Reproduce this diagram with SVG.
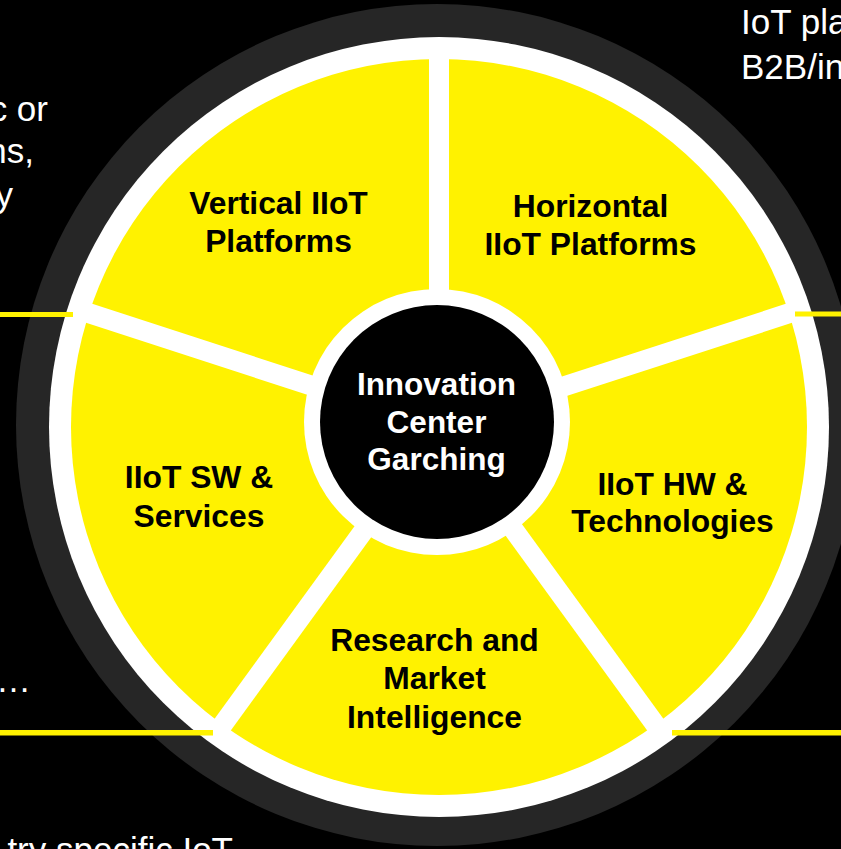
<svg xmlns="http://www.w3.org/2000/svg" width="841" height="849" viewBox="0 0 841 849">
  <style>
    .bg { font-family: "Liberation Sans", Arial, sans-serif; font-size: 35px; fill: #FFFFFF; }
    .lbl { font-family: "Liberation Sans", Arial, sans-serif; font-size: 31.8px; font-weight: bold; fill: #000000; text-anchor: middle; }
    .ctr { font-family: "Liberation Sans", Arial, sans-serif; font-size: 31.5px; font-weight: bold; fill: #FFFFFF; text-anchor: middle; }
    .spoke { stroke: #FFFFFF; stroke-width: 20; stroke-linecap: butt; fill: none; }
    .bar { fill: #FFF200; }
  </style>
  <rect x="0" y="0" width="841" height="849" fill="#000000"/>

  <g id="background-text">
    <text class="bg" x="48" y="121" text-anchor="end">c or</text>
    <text class="bg" x="34" y="163" text-anchor="end">ns,</text>
    <text class="bg" x="13" y="207" text-anchor="end">y</text>
    <text class="bg" x="-4" y="692">…</text>
    <text class="bg" x="233" y="862" text-anchor="end">try specific IoT</text>
    <text class="bg" x="741" y="34">IoT pla</text>
    <text class="bg" x="741" y="79">B2B/in</text>
  </g>

  <g id="wheel">
    <circle cx="437" cy="425" r="421" fill="#262626"/>
    <circle cx="439" cy="427" r="390" fill="#FFFFFF"/>
    <circle cx="439" cy="427" r="368" fill="#FFF200"/>
  </g>

  <g id="connectors">
    <line class="spoke" x1="439" y1="427" x2="439" y2="47"/>
    <line class="spoke" x1="439" y1="427" x2="77.6" y2="309.6"/>
    <line class="spoke" x1="439" y1="427" x2="800.4" y2="309.6"/>
    <line class="spoke" x1="439" y1="427" x2="215.6" y2="734.4"/>
    <line class="spoke" x1="439" y1="427" x2="662.4" y2="734.4"/>
  </g>

  <g id="center">
    <circle cx="437" cy="422" r="133" fill="#FFFFFF"/>
    <circle cx="437" cy="422" r="117" fill="#000000"/>
    <text class="ctr" x="436.5" y="395">Innovation</text>
    <text class="ctr" x="436.5" y="433">Center</text>
    <text class="ctr" x="436.5" y="470">Garching</text>
  </g>

  <g id="vertical-iiot-platforms">
    <text class="lbl" x="278.5" y="213.5">Vertical IIoT</text>
    <text class="lbl" x="278.5" y="252">Platforms</text>
  </g>

  <g id="horizontal-iiot-platforms">
    <text class="lbl" x="590.5" y="217">Horizontal</text>
    <text class="lbl" x="590.5" y="255">IIoT Platforms</text>
  </g>

  <g id="iiot-sw-services">
    <text class="lbl" x="199" y="487.5">IIoT SW &amp;</text>
    <text class="lbl" x="199" y="526.5">Services</text>
  </g>

  <g id="iiot-hw-technologies">
    <text class="lbl" x="672.5" y="495">IIoT HW &amp;</text>
    <text class="lbl" x="672.5" y="532">Technologies</text>
  </g>

  <g id="research-market-intelligence">
    <text class="lbl" x="434.5" y="651">Research and</text>
    <text class="lbl" x="434.5" y="689">Market</text>
    <text class="lbl" x="434.5" y="728">Intelligence</text>
  </g>

  <g id="bars">
    <rect class="bar" x="0" y="312" width="73" height="5"/>
    <rect class="bar" x="795" y="311.5" width="46" height="5"/>
    <rect class="bar" x="0" y="730" width="213" height="5.5"/>
    <rect class="bar" x="672" y="730" width="169" height="5.5"/>
  </g>
</svg>
